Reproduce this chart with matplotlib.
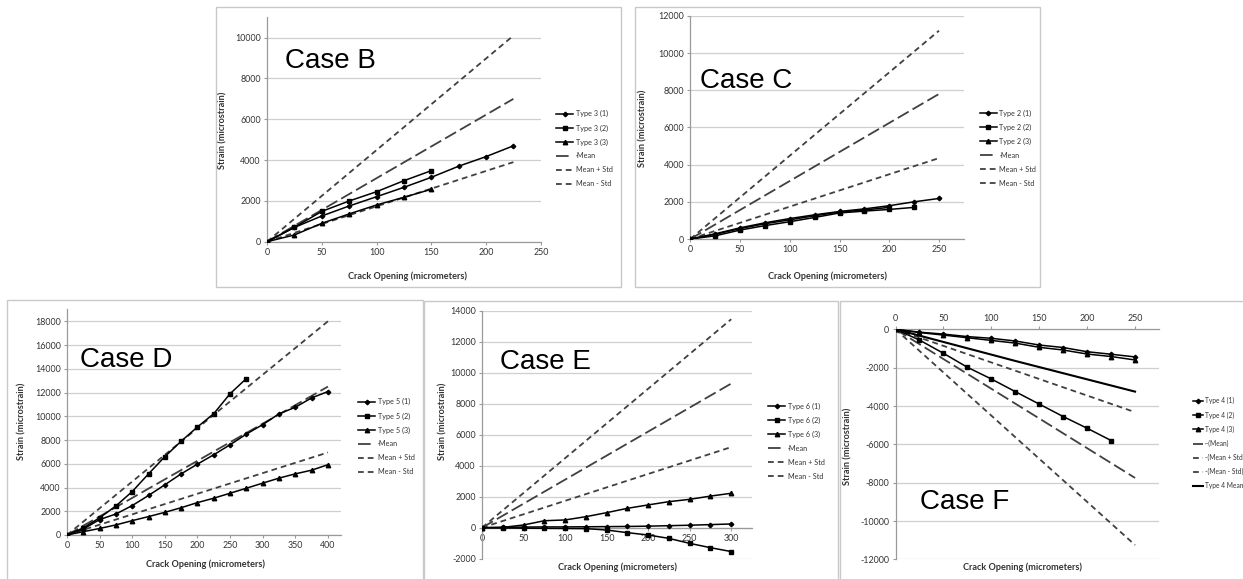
import matplotlib
matplotlib.use('Agg')
import matplotlib.pyplot as plt
from matplotlib.patches import Rectangle

W, H = 1243, 579
plt.rcParams['font.family'] = ['Lato', 'DejaVu Sans']
plt.rcParams['axes.unicode_minus'] = False

# ---------------- data ----------------
# Case B (Type 3)
b_x1 = [0, 25, 50, 75, 100, 125, 150, 175, 200, 225]
b_t1 = [0, 700, 1260, 1750, 2205, 2665, 3155, 3700, 4170, 4700]
b_x2 = [0, 25, 50, 75, 100, 125, 150]
b_t2 = [0, 705, 1485, 1995, 2450, 2990, 3480]
b_x3 = [0, 25, 50, 75, 100, 125, 150]
b_t3 = [0, 330, 900, 1360, 1800, 2175, 2570]
b_lx = [0, 225]
b_mean = [0, 7000]
b_plus = [0, 10100]
b_minus = [0, 3900]

# Case C (Type 2)
c_x1 = [0, 25, 50, 75, 100, 125, 150, 175, 200, 225, 250]
c_t1 = [0, 280, 600, 870, 1100, 1300, 1480, 1620, 1790, 2000, 2180]
c_x2 = [0, 25, 50, 75, 100, 125, 150, 175, 200, 225]
c_t2 = [0, 170, 480, 720, 930, 1160, 1400, 1500, 1590, 1700]
c_x3 = [0, 25, 50, 75, 100, 125, 150, 175, 200]
c_t3 = [0, 250, 560, 820, 1030, 1250, 1450, 1560, 1700]
c_lx = [0, 250]
c_mean = [0, 7800]
c_plus = [0, 11200]
c_minus = [0, 4350]

# Case D (Type 5)
d_x1 = [0, 25, 50, 75, 100, 125, 150, 175, 200, 225, 250, 275, 300, 325, 350, 375, 400]
d_t1 = [0, 500, 1300, 1770, 2480, 3330, 4230, 5150, 5970, 6760, 7600, 8500, 9300,
        10200, 10760, 11550, 12080]
d_x2 = [0, 25, 50, 75, 100, 125, 150, 175, 200, 225, 250, 275]
d_t2 = [0, 600, 1450, 2450, 3660, 5150, 6600, 7900, 9100, 10220, 11900, 13180]
d_x3 = [0, 25, 50, 75, 100, 125, 150, 175, 200, 225, 250, 275, 300, 325, 350, 375, 400]
d_t3 = [0, 280, 550, 850, 1210, 1550, 1910, 2300, 2730, 3100, 3520, 3940, 4370,
        4790, 5150, 5460, 5920]
d_lx = [0, 400]
d_mean = [0, 12500]
d_plus = [0, 18000]
d_minus = [0, 6950]

# Case E (Type 6)
e_x = [0, 25, 50, 75, 100, 125, 150, 175, 200, 225, 250, 275, 300]
e_t1 = [0, 20, 40, 50, 50, 60, 70, 80, 100, 130, 160, 200, 240]
e_t2 = [0, -20, -30, -40, -50, -60, -150, -320, -470, -690, -1010, -1290, -1540]
e_t3 = [0, 20, 175, 450, 500, 710, 970, 1250, 1470, 1680, 1830, 2040, 2220]
e_lx = [0, 300]
e_mean = [0, 9300]
e_plus = [0, 13450]
e_minus = [0, 5200]

# Case F (Type 4)
f_x1 = [0, 25, 50, 75, 100, 125, 150, 175, 200, 225, 250]
f_t1 = [0, -150, -250, -380, -470, -610, -820, -950, -1170, -1300, -1440]
f_x2 = [0, 25, 50, 75, 100, 125, 150, 175, 200, 225]
f_t2 = [0, -560, -1250, -1980, -2590, -3250, -3900, -4550, -5160, -5800]
f_x3 = [0, 25, 50, 75, 100, 125, 150, 175, 200, 225, 250]
f_t3 = [0, -170, -300, -440, -580, -720, -940, -1080, -1290, -1420, -1600]
f_lx = [0, 250]
f_mean = [0, -7750]
f_plus = [0, -11250]
f_minus = [0, -4320]
f_avg_x = [0, 125, 250]
f_avg = [0, -1650, -3250]

# ---------------- helpers ----------------
fig = plt.figure(figsize=(W / 100, H / 100), dpi=100)
fig.patch.set_facecolor('white')

GRID = '#cfcfcf'
AX = '#9a9a9a'
TXT = '#333333'
DASHC = '#404040'


def fx(x):
    return x / W


def fy(y):
    return 1 - y / H


def box(l, t, r, b):
    return [l / W, 1 - b / H, (r - l) / W, (b - t) / H]


def border(l, t, r, b):
    fig.patches.append(Rectangle((l / W, 1 - b / H), (r - l) / W, (b - t) / H,
                                 transform=fig.transFigure, fill=False,
                                 edgecolor='#c8c8c8', linewidth=1.0, zorder=5))


def make_axes(rect, xlim, ylim, xticks, yticks, zero_axis=False, top_axis=False):
    ax = fig.add_axes(box(*rect))
    ax.set_xlim(*xlim)
    ax.set_ylim(*ylim)
    ax.set_xticks(xticks)
    ax.set_yticks(yticks)
    ax.set_facecolor('none')
    for s in ['top', 'right', 'bottom', 'left']:
        ax.spines[s].set_visible(False)
    ax.spines['left'].set_visible(True)
    ax.spines['left'].set_color(AX)
    ax.spines['left'].set_linewidth(0.9)
    if top_axis:
        ax.spines['top'].set_visible(True)
        ax.spines['top'].set_color(AX)
        ax.spines['top'].set_linewidth(0.9)
        ax.xaxis.set_ticks_position('top')
        ax.tick_params(axis='x', labeltop=True, labelbottom=False)
    else:
        ax.spines['bottom'].set_visible(True)
        ax.spines['bottom'].set_color(AX)
        ax.spines['bottom'].set_linewidth(0.9)
        if zero_axis:
            ax.spines['bottom'].set_position(('data', 0))
    ax.tick_params(axis='both', labelsize=6.4, colors=AX, labelcolor=TXT,
                   length=2.5, width=0.8, direction='out', pad=2)
    ax.grid(axis='y', color=GRID, linewidth=0.9)
    ax.set_axisbelow(True)
    return ax


def plot_types(ax, series):
    handles = []
    for (x, y, mk, ms) in series:
        h, = ax.plot(x, y, color='black', lw=1.1, marker=mk, markersize=ms,
                     markerfacecolor='black', markeredgecolor='black', zorder=4)
        handles.append(h)
    return handles


def plot_stats(ax, lx, mean, plus, minus):
    h1, = ax.plot(lx, mean, color=DASHC, lw=1.3, dashes=(7, 2.5), zorder=3)
    h2, = ax.plot(lx, plus, color=DASHC, lw=1.3, dashes=(3.2, 2.2), zorder=3)
    h3, = ax.plot(lx, minus, color=DASHC, lw=1.3, dashes=(3.2, 2.2), zorder=3)
    return [h1, h2, h3]


def add_legend(ax, handles, labels, x_px, yc_px, fs=5.2, hl=2.4, ls=0.95):
    ax.legend(handles, labels, loc='center left',
              bbox_to_anchor=(fx(x_px), fy(yc_px)), bbox_transform=fig.transFigure,
              frameon=False, fontsize=fs, handlelength=hl, handletextpad=0.3,
              labelspacing=ls, borderpad=0, borderaxespad=0, labelcolor=TXT)


def labels(xl_pos, yl_pos):
    fig.text(fx(xl_pos[0]), fy(xl_pos[1]), 'Crack Opening (micrometers)',
             ha='center', va='center', fontsize=6.6, fontweight='bold', color=TXT)
    fig.text(fx(yl_pos[0]), fy(yl_pos[1]), 'Strain (microstrain)', rotation=90,
             ha='center', va='center', fontsize=6.6, fontweight='bold', color=TXT)


def case_text(s, x, ybase):
    fig.text(fx(x), fy(ybase), s, ha='left', va='baseline', fontsize=20,
             family='Liberation Sans', color='black')


MK = [('D', 2.3), ('s', 3.0), ('^', 3.2)]

# ---------------- panel borders ----------------
border(216, 7, 621, 287)
border(635, 7, 1040, 287)
border(7, 300, 423, 590)
border(424, 301, 838, 590)
border(840, 301, 1250, 590)

# ---------------- Case B ----------------
ax = make_axes((267, 17.3, 540.75, 241.7), (0, 250), (0, 11000),
               [0, 50, 100, 150, 200, 250], list(range(0, 10001, 2000)))
hs = plot_types(ax, [(b_x1, b_t1, *MK[0]), (b_x2, b_t2, *MK[1]), (b_x3, b_t3, *MK[2])])
hs += plot_stats(ax, b_lx, b_mean, b_plus, b_minus)
add_legend(ax, hs, ['Type 3 (1)', 'Type 3 (2)', 'Type 3 (3)', '\u00b7Mean',
                    'Mean + Std', 'Mean - Std'], 556, 148.7)
labels((407, 276), (223, 130))
case_text('Case B', 284.7, 68.3)

# ---------------- Case C ----------------
ax = make_axes((690.3, 15.8, 963.9, 239), (0, 275), (0, 12000),
               [0, 50, 100, 150, 200, 250], list(range(0, 12001, 2000)))
hs = plot_types(ax, [(c_x1, c_t1, *MK[0]), (c_x2, c_t2, *MK[1]), (c_x3, c_t3, *MK[2])])
hs += plot_stats(ax, c_lx, c_mean, c_plus, c_minus)
add_legend(ax, hs, ['Type 2 (1)', 'Type 2 (2)', 'Type 2 (3)', '\u00b7Mean',
                    'Mean + Std', 'Mean - Std'], 979.7, 148.3)
labels((827, 276), (643, 128))
case_text('Case C', 699.7, 88.5)

# ---------------- Case D ----------------
ax = make_axes((67, 309.4, 341, 535), (0, 420), (0, 19000),
               list(range(0, 401, 50)), list(range(0, 18001, 2000)))
hs = plot_types(ax, [(d_x1, d_t1, *MK[0]), (d_x2, d_t2, *MK[1]), (d_x3, d_t3, *MK[2])])
hs += plot_stats(ax, d_lx, d_mean, d_plus, d_minus)
add_legend(ax, hs, ['Type 5 (1)', 'Type 5 (2)', 'Type 5 (3)', '\u00b7Mean',
                    'Mean + Std', 'Mean - Std'], 358, 436.7)
labels((205, 564.7), (21.7, 421))
case_text('Case D', 80, 367)

# ---------------- Case E ----------------
ax = make_axes((482, 310.7, 752, 558.7), (0, 325), (-2000, 14000),
               list(range(0, 301, 50)), list(range(-2000, 14001, 2000)), zero_axis=True)
hs = plot_types(ax, [(e_x, e_t1, *MK[0]), (e_x, e_t2, *MK[1]), (e_x, e_t3, *MK[2])])
hs += plot_stats(ax, e_lx, e_mean, e_plus, e_minus)
add_legend(ax, hs, ['Type 6 (1)', 'Type 6 (2)', 'Type 6 (3)', '\u00b7Mean',
                    'Mean + Std', 'Mean - Std'], 768, 441.3)
labels((618, 567), (443, 421))
case_text('Case E', 500, 368.7)

# ---------------- Case F ----------------
ax = make_axes((895.5, 329.3, 1159, 559.4), (0, 275), (-12000, 0),
               list(range(0, 251, 50)), list(range(-12000, 1, 2000)), top_axis=True)
hs = plot_types(ax, [(f_x1, f_t1, *MK[0]), (f_x2, f_t2, *MK[1]), (f_x3, f_t3, *MK[2])])
hs += plot_stats(ax, f_lx, f_mean, f_plus, f_minus)
h_avg, = ax.plot(f_avg_x, f_avg, color='black', lw=1.5, zorder=3)
hs.append(h_avg)
add_legend(ax, hs, ['Type 4 (1)', 'Type 4 (2)', 'Type 4 (3)', '\u00b7-(Mean)',
                    '-(Mean + Std)', '-(Mean - Std)', 'Type 4 Mean'], 1193, 443.3,
           fs=4.8, hl=1.5, ls=1.05)
labels((1023, 567), (848, 446))
case_text('Case F', 920, 508.7)

fig.savefig('out.png', dpi=100, facecolor='white')
